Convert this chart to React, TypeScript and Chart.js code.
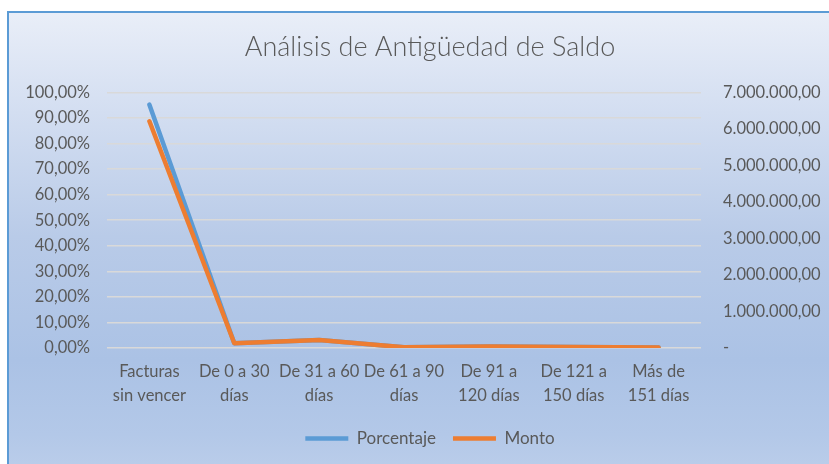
import { useEffect, useRef } from "react";
import { Chart, registerables } from "chart.js";

Chart.register(...registerables);

const categories: string[][] = [
  ["Facturas", "sin vencer"],
  ["De 0 a 30", "días"],
  ["De 31 a 60", "días"],
  ["De 61 a 90", "días"],
  ["De 91 a", "120 días"],
  ["De 121 a", "150 días"],
  ["Más de", "151 días"],
];
const porcentaje = [95.2, 1.9, 3.1, 0.3, 0.6, 0.4, 0.2];
const monto = [6210000, 130000, 220000, 20000, 40000, 25000, 12000];

const W = 860;
const H = 464;
const FONT = "Lato, 'Open Sans', sans-serif";
const TEXT = "#595959";

function fmtMonto(v: number): string {
  if (v === 0) return "-";
  const s = String(Math.round(v)).replace(/\B(?=(\d{3})+(?!\d))/g, ".");
  return s + ",00";
}

export default function App() {
  const ref = useRef<HTMLCanvasElement>(null);
  useEffect(() => {
    const chart = new Chart(ref.current!, {
      type: "line",
      data: {
        labels: categories,
        datasets: [
          {
            label: "Porcentaje",
            data: porcentaje,
            yAxisID: "y",
            borderColor: "#5b9bd5",
            backgroundColor: "#5b9bd5",
            borderWidth: 4.5,
            pointRadius: 0,
            borderCapStyle: "round",
            borderJoinStyle: "round",
            order: 1,
          },
          {
            label: "Monto",
            data: monto,
            yAxisID: "y1",
            borderColor: "#ed7d31",
            backgroundColor: "#ed7d31",
            borderWidth: 4.5,
            pointRadius: 0,
            borderCapStyle: "round",
            borderJoinStyle: "round",
            order: 0,
          },
        ],
      },
      options: {
        responsive: false,
        animation: false,
        devicePixelRatio: 1,
        layout: { padding: { top: 0, bottom: 7, left: 0, right: 0 } },
        plugins: {
          title: {
            display: true,
            text: "Análisis de Antigüedad de Saldo",
            color: TEXT,
            font: { family: FONT, size: 27, weight: 300 },
            padding: { top: 31, bottom: 29 },
          },
          legend: {
            position: "bottom",
            labels: {
              usePointStyle: true,
              pointStyle: "line",
              pointStyleWidth: 43,
              color: TEXT,
              font: { family: FONT, size: 17 },
              padding: 17,
              sort: (a: any, b: any) => a.datasetIndex - b.datasetIndex,
            },
          },
          tooltip: { enabled: false },
        },
        scales: {
          x: {
            offset: true,
            grid: { display: false },
            border: { display: false },
            ticks: {
              color: TEXT,
              font: { family: FONT, size: 16.5, lineHeight: 1.45 },
              maxRotation: 0,
              minRotation: 0,
              autoSkip: false,
              padding: 4,
            },
            afterFit: (s: any) => {
              s.height = 65;
            },
          },
          y: {
            position: "left",
            min: 0,
            max: 100,
            grid: { color: "#d9d9d9", lineWidth: 1.5, drawTicks: false },
            border: { display: false },
            ticks: {
              stepSize: 10,
              color: TEXT,
              font: { family: FONT, size: 16.5 },
              padding: 17,
              callback: (v: any) => Number(v).toFixed(2).replace(".", ",") + "%",
            },
            afterFit: (s: any) => {
              s.width = 107;
            },
          },
          y1: {
            position: "right",
            min: 0,
            max: 7000000,
            grid: { display: false, drawTicks: false },
            border: { display: false },
            ticks: {
              stepSize: 1000000,
              color: TEXT,
              font: { family: FONT, size: 16.5 },
              padding: 22,
              callback: (v: any) => fmtMonto(Number(v)),
            },
            afterFit: (s: any) => {
              s.width = W - 701;
            },
          },
        },
      },
    } as any);
    return () => chart.destroy();
  }, []);

  return (
    <div
      style={{
        position: "fixed",
        left: 0,
        top: 0,
        width: 829,
        height: 464,
        overflow: "hidden",
        background: "#ffffff",
      }}
    >
      <div
        style={{
          position: "absolute",
          left: 7,
          top: 11,
          width: 900,
          height: 500,
          boxSizing: "border-box",
          border: "2px solid #5b9bd5",
          background:
            "linear-gradient(to bottom, #e9eef8 0%, #d3def1 20%, #b9cbe8 45%, #abc2e5 70%, #b3c8e8 85%, #c3d3ec 100%)",
        }}
      />
      <canvas
        ref={ref}
        width={W}
        height={H}
        style={{ position: "absolute", left: 0, top: 0, width: W, height: H }}
      />
    </div>
  );
}
